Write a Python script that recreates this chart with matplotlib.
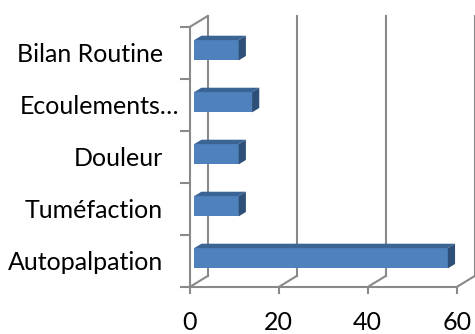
import matplotlib
matplotlib.use("Agg")
import matplotlib.pyplot as plt
from matplotlib.patches import Polygon

categories = ["Autopalpation", "Tuméfaction", "Douleur", "Ecoulements…", "Bilan Routine"]
valeurs = [57, 10, 10, 13, 10]
graduations = [0, 20, 40, 60]

plt.rcParams["font.family"] = ["Lato", "DejaVu Sans"]

fig = plt.figure(figsize=(4.75, 3.34), dpi=100)
ax = fig.add_axes([189.7 / 475, 47 / 334, 267 / 475, 260 / 334])
ax.set_xlim(0, 60)
ax.set_ylim(0, len(categories))

# decalage de profondeur (effet 3D) en unites de donnees
prof_x = 18 / 267 * 60
prof_y = 11 / 260 * len(categories)
gris = "#898989"

# plan du fond et plancher
for g in graduations:
    ax.plot([g + prof_x, g + prof_x], [prof_y, len(categories) + prof_y],
            color=gris, lw=1.5, clip_on=False, zorder=1)
    ax.plot([g, g + prof_x], [0, prof_y], color=gris, lw=1.5, clip_on=False, zorder=1)
ax.plot([0, prof_x], [len(categories), len(categories) + prof_y],
        color=gris, lw=1.5, clip_on=False, zorder=1)

# barres 3D : face avant, dessus, cote
d0, d1 = 0.25, 0.65
h = 0.39
for i, v in enumerate(valeurs):
    ox, oy = d0 * prof_x, d0 * prof_y
    ex, ey = (d1 - d0) * prof_x, (d1 - d0) * prof_y
    y0 = i + 0.5 - h / 2 + oy
    y1 = y0 + h
    x0, x1 = ox, v + ox
    face = Polygon([(x0, y0), (x1, y0), (x1, y1), (x0, y1)],
                   facecolor="#4F81BD", edgecolor="none", zorder=3, clip_on=False)
    dessus = Polygon([(x0, y1), (x1, y1), (x1 + ex, y1 + ey), (x0 + ex, y1 + ey)],
                     facecolor="#3B6496", edgecolor="none", zorder=3, clip_on=False)
    cote = Polygon([(x1, y0), (x1 + ex, y0 + ey), (x1 + ex, y1 + ey), (x1, y1)],
                   facecolor="#2E5078", edgecolor="none", zorder=3, clip_on=False)
    for p in (face, dessus, cote):
        ax.add_patch(p)

for s in ("top", "right"):
    ax.spines[s].set_visible(False)
for s in ("left", "bottom"):
    ax.spines[s].set_color(gris)
    ax.spines[s].set_linewidth(1.5)
    ax.spines[s].set_zorder(2)

ax.set_xticks(graduations)
ax.set_xticklabels([str(g) for g in graduations])
ax.tick_params(axis="x", length=5, width=1.5, color=gris, pad=12.5, labelsize=18)

ax.set_yticks(range(len(categories) + 1))
ax.set_yticklabels([])
ax.tick_params(axis="y", which="major", length=7, width=1.5, color=gris)

# etiquettes des categories ; le libelle tronque deborde plus a droite
for i, c in enumerate(categories):
    decal = -10 if c.endswith("…") else -27
    ax.annotate(c, xy=(0, i + 0.5), xycoords=("axes fraction", "data"),
                xytext=(decal, -2), textcoords="offset pixels",
                ha="right", va="center", fontsize=18)

fig.savefig("out.png", dpi=100)
